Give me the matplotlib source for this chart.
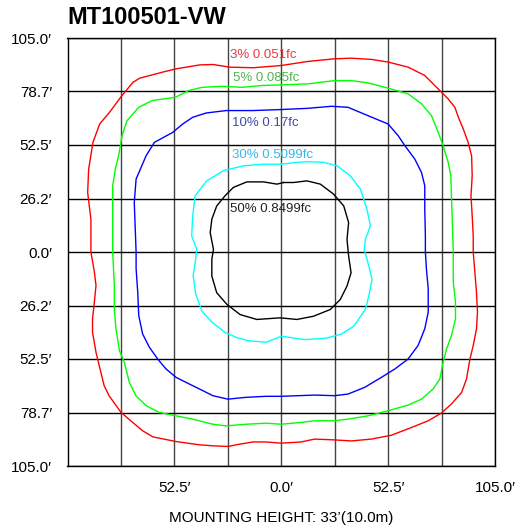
import matplotlib
matplotlib.use('Agg')
import matplotlib.pyplot as plt

plt.rcParams['font.family'] = ['Liberation Sans', 'DejaVu Sans']

# iso-footcandle contours (feet), clockwise from top centre
red_x = [0, 13.1, 26.2, 34.4, 44.3, 52.5, 62.3, 70.5, 77.1, 82.0, 85.3, 86.9, 89.4, 91.8, 93.5, 93.8, 93.2, 93.8, 94.3, 94.3,
         95.1, 95.9, 96.4, 95.9, 94.3, 92.7, 91.0, 88.6, 83.6, 78.7, 72.2, 64.0, 54.1, 44.3, 34.4, 26.2, 16.4, 9.8, 0,
         -7.4, -13.9, -20.5, -26.2, -33.6, -40.2, -51.7, -63.1, -68.1, -73.0, -78.7, -84.6, -87.0, -89.4, -91.0, -92.7, -92.7, -91.8, -91.0, -91.8, -93.5,
         -93.5, -95.1, -94.6, -92.5, -89.2, -84.3, -78.6, -72.8, -69.5, -58.1, -51.5, -40.0, -33.5, -25.4, -13.8, 0]
red_y = [91.5, 93.5, 94.8, 95.1, 94.5, 93.2, 90.7, 86.6, 80.0, 75.1, 71.0, 66.4, 60.4, 53.8, 47.2, 37.4, 27.6, 17.7, 7.9, 0,
         -9.8, -19.7, -29.5, -37.7, -45.9, -52.5, -62.3, -68.9, -74.6, -79.0, -82.8, -86.1, -89.9, -91.8, -92.7, -92.2, -91.8, -93.2, -93.8,
         -93.2, -93.2, -94.3, -95.4, -95.1, -94.6, -93.0, -90.7, -87.7, -83.6, -78.7, -70.5, -65.6, -55.8, -49.2, -39.4, -32.8, -24.6, -16.4, -9.8, 0,
         16.1, 29.2, 40.7, 53.8, 62.8, 68.6, 76.3, 83.3, 85.3, 88.3, 89.9, 91.8, 92.0, 90.7, 90.4, 91.5]

green_x = [0, 13.1, 26.2, 34.4, 42.6, 52.5, 62.3, 68.9, 73.8, 77.1, 79.5, 82.0, 83.3, 83.6, 84.0, 84.5,
           84.5, 85.6, 85.6, 83.6, 81.2, 79.5, 77.9, 74.6, 68.9, 62.3, 52.5, 42.6, 32.8, 26.2, 16.4, 9.8, 0,
           -7.4, -17.2, -27.1, -33.6, -43.5, -51.7, -59.9, -66.4, -71.4, -74.6, -77.1, -79.5, -81.2, -82.0, -82.0, -82.8,
           -82.8, -82.8, -81.5, -79.9, -78.2, -75.8, -70.0, -63.5, -52.0, -45.5, -38.9, -29.1, -19.2, -9.4, 0]
green_y = [82.0, 82.5, 84.1, 84.1, 83.0, 80.4, 77.6, 72.7, 66.9, 58.7, 52.2, 44.0, 37.4, 27.6, 16.1, 0,
           -14.8, -24.6, -32.8, -41.0, -47.6, -54.1, -62.3, -67.2, -72.2, -75.1, -77.9, -80.4, -82.0, -82.8, -82.8, -83.6, -84.5,
           -84.0, -84.5, -85.3, -84.5, -82.0, -80.4, -78.7, -75.4, -70.5, -64.0, -54.1, -48.4, -37.7, -27.9, -16.4, 0,
           17.7, 32.5, 40.7, 47.2, 57.1, 64.4, 71.0, 74.3, 75.9, 79.2, 80.8, 81.3, 80.8, 81.7, 82.0]

blue_x = [0, 13.1, 24.6, 32.8, 42.6, 52.5, 57.4, 60.7, 65.6, 68.9, 70.5, 70.5, 70.8, 70.8,
          71.3, 72.2, 72.2, 70.5, 67.2, 62.3, 55.8, 49.2, 41.0, 32.8, 26.2, 16.4, 8.2, 0,
          -7.4, -17.2, -26.2, -33.6, -40.2, -45.1, -51.7, -56.6, -60.7, -64.8, -68.1, -70.0, -70.5, -71.3, -71.3,
          -72.2, -71.3, -66.4, -62.3, -53.3, -48.4, -43.5, -36.9, -27.1, -13.9, 0]
blue_y = [69.9, 70.5, 71.5, 71.0, 66.9, 62.8, 57.1, 52.2, 45.6, 39.0, 32.5, 21.0, 7.9, 0,
          -8.2, -18.0, -29.5, -37.7, -45.9, -52.5, -57.4, -61.5, -66.4, -69.7, -70.5, -70.2, -70.5, -70.8,
          -70.8, -71.3, -72.2, -70.5, -67.2, -64.8, -61.5, -57.4, -52.5, -46.7, -40.2, -31.2, -19.7, -8.2, 0,
          24.3, 35.8, 47.2, 53.8, 58.7, 62.8, 66.1, 68.2, 69.4, 69.4, 69.9]

cyan_x = [0, 7.7, 13.1, 20.8, 27.4, 33.9, 38.9, 42.1, 43.8, 41.3, 40.8, 43.0, 44.6, 43.0, 41.3, 35.6, 29.5, 22.0, 11.5, 0,
          -7.4, -16.4, -21.8, -27.5, -34.0, -39.0, -42.0, -43.3, -42.3, -41.5, -44.0, -43.5, -42.3, -36.6, -28.4, -18.5, -8.7, 0]
cyan_y = [43.1, 44.0, 44.3, 44.0, 42.3, 37.4, 30.8, 21.0, 12.8, 6.2, 1.3, -6.9, -13.4, -21.6, -28.2, -36.4, -40.3, -42.3, -43.0, -41.3,
          -44.3, -43.5, -42.0, -39.5, -34.5, -29.0, -20.7, -11.6, -5.2, 1.3, 7.9, 17.7, 27.6, 34.9, 39.9, 42.3, 43.1, 43.1]

black_x = [1.1, 6.1, 12.6, 19.2, 25.7, 30.7, 33.1, 32.3, 33.1, 34.3, 32.3, 29.0, 24.1, 15.9, 7.7, -0.5,
           -12.0, -20.2, -26.7, -31.7, -34.1, -34.1, -33.3, -34.9, -34.1, -31.7, -27.6, -23.5, -16.9, -8.7, -2.1, 1.1]
black_y = [34.1, 34.1, 34.9, 33.3, 28.4, 22.6, 14.4, 6.2, -2.0, -10.2, -16.7, -23.3, -28.2, -31.5, -33.1, -32.3,
           -33.1, -30.7, -25.7, -20.0, -11.8, -3.6, 1.3, 9.5, 16.1, 22.6, 27.6, 31.7, 34.4, 34.4, 33.3, 34.1]

labels = ['3% 0.051fc', '5% 0.085fc', '10% 0.17fc', '30% 0.5099fc', '50% 0.8499fc']
label_x = [-25.0, -23.7, -24.2, -24.2, -25.2]
label_y = [96.7, 85.6, 63.5, 47.6, 21.0]
line_colors = ['#ff0000', '#00ff00', '#0000ff', '#00ffff', '#000000']
text_colors = ['#e8383d', '#4db84d', '#3b4ba8', '#35b8e8', '#222222']

grid_pos = [-105, -78.75, -52.5, -26.25, 0, 26.25, 52.5, 78.75, 105]
xtick_labels = ['', '', '52.5\u2032', '', '0.0\u2032', '', '52.5\u2032', '', '105.0\u2032']
ytick_labels = ['105.0\u2032', '78.7\u2032', '52.5\u2032', '26.2\u2032', '0.0\u2032',
                '26.2\u2032', '52.5\u2032', '78.7\u2032', '105.0\u2032']

fig = plt.figure(figsize=(5.2, 5.29), dpi=100)
ax = fig.add_axes([67.5 / 520, 63 / 529, 427.5 / 520, 428 / 529])

curves = [(red_x, red_y), (green_x, green_y), (blue_x, blue_y), (cyan_x, cyan_y), (black_x, black_y)]
for (cx, cy), col in zip(curves, line_colors):
    ax.plot(cx, cy, color=col, lw=1.0, zorder=3)

for txt, tx, ty, col in zip(labels, label_x, label_y, text_colors):
    ax.text(tx, ty, txt, color=col, fontsize=9.5, ha='left', va='center', zorder=4)

ax.set_xlim(-105, 105)
ax.set_ylim(-105, 105)
ax.set_xticks(grid_pos)
ax.set_xticklabels(xtick_labels, fontsize=11)
ax.set_yticks(grid_pos)
ax.set_yticklabels(ytick_labels[::-1], fontsize=11)
ax.tick_params(length=0)
ax.tick_params(axis='x', pad=11)
ax.tick_params(axis='y', pad=11)
ax.xaxis.grid(True, color='#444444', lw=1.0, zorder=1)
ax.yaxis.grid(True, color='black', lw=1.0, zorder=1)
ax.set_axisbelow(True)
for s in ax.spines.values():
    s.set_linewidth(1.0)

ax.set_xlabel('MOUNTING HEIGHT: 33\u2019(10.0m)', fontsize=11, labelpad=11)
fig.text(67.5 / 520, 1 - 17 / 529, 'MT100501-VW', fontsize=17, fontweight='bold', ha='left', va='center')

fig.savefig('out.png', dpi=100)
